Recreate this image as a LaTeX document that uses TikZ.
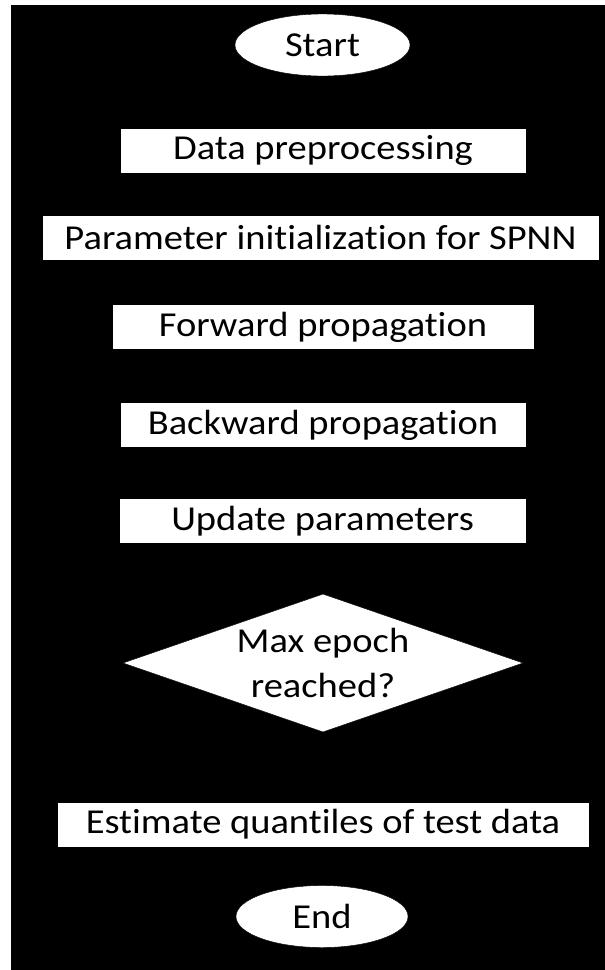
\documentclass[tikz,border=0pt]{standalone}
\usepackage{fontspec}
\setmainfont{Carlito}[Ligatures=NoCommon, FakeStretch=1.1]
\usetikzlibrary{shapes.geometric,arrows.meta}

\tikzset{
  every node/.style={font=\fontsize{35}{45}\selectfont, text=black, inner sep=0pt},
  terminal/.style={ellipse, fill=white, draw=black, minimum width=#1, minimum height=62pt},
  stepbox/.style={rectangle, fill=white, draw=black, minimum width=#1, minimum height=45pt},
  decision/.style={diamond, fill=white, draw=black, aspect=2.9,
    minimum width=400pt, minimum height=138pt, align=center},
  flow/.style={draw=black, line width=1pt, -{Triangle[length=6pt,width=6pt]}}
}

\begin{document}
\begin{tikzpicture}[x=1pt, y=-1pt]
  % page and dark panel
  \fill[white] (0,0) rectangle (605,970);
  \fill[black] (11,5) rectangle (605,970);
  \useasboundingbox (0,0) rectangle (605,970);

  \node[terminal=175pt] (start) at (322.5,45) {Start};
  \node[stepbox=406pt] (prep) at (323,150.5) {Data preprocessing};
  \node[stepbox=557pt] (init) at (320.5,237.5) {Parameter initialization for SPNN};
  \node[stepbox=422pt] (fwd) at (323,327) {Forward propagation};
  \node[stepbox=406pt] (bwd) at (323,425) {Backward propagation};
  \node[stepbox=407pt] (upd) at (322.5,521) {Update parameters};
  \node[decision] (maxep) at (323,663) {Max epoch\\reached?};
  \node[stepbox=532pt] (est) at (323,824.5) {Estimate quantiles of test data};
  \node[terminal=172pt] (stop) at (322,916.5) {End};

  \draw[flow] (start) -- (prep);
  \draw[flow] (prep) -- (init);
  \draw[flow] (init) -- (fwd);
  \draw[flow] (fwd) -- (bwd);
  \draw[flow] (bwd) -- (upd);
  \draw[flow] (upd) -- (maxep);
  \draw[flow] (maxep) -- (est);
  \draw[flow] (est) -- (stop);
\end{tikzpicture}
\end{document}
